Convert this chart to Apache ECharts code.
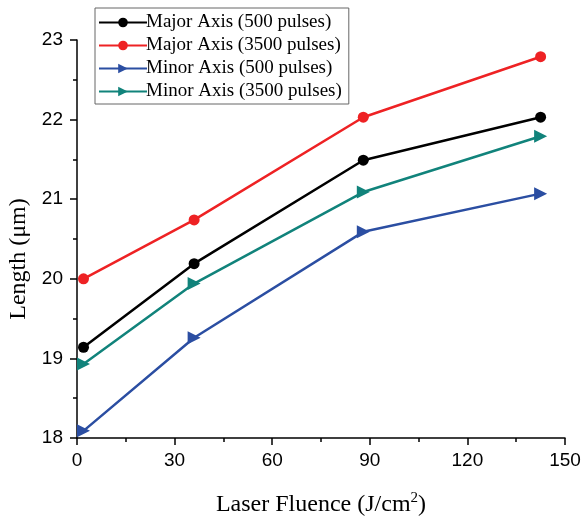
<!DOCTYPE html>
<html><head><meta charset="utf-8">
<script src="https://cdn.jsdelivr.net/npm/echarts@6/dist/echarts.min.js"></script>
<style>html,body{margin:0;padding:0;background:#fff}#c{width:585px;height:518px}</style>
</head><body><div id="c"></div>
<script>
const fluence = [2, 36, 88, 142.5];
const majorAxis500 = [19.14, 20.19, 21.49, 22.03];
const majorAxis3500 = [20.0, 20.74, 22.03, 22.79];
const minorAxis500 = [18.09, 19.26, 20.59, 21.07];
const minorAxis3500 = [18.93, 19.94, 21.09, 21.79];
const seriesNames = ['Major Axis (500 pulses)', 'Major Axis (3500 pulses)', 'Minor Axis (500 pulses)', 'Minor Axis (3500 pulses)'];
const colors = ['#000000', '#ee2224', '#2b4ea2', '#11837b'];
const symbols = ['circle', 'circle', 'triangle', 'triangle'];
const allData = [majorAxis500, majorAxis3500, minorAxis500, minorAxis3500];

const chart = echarts.init(document.getElementById('c'));
const series = allData.map((vals, i) => ({
  name: seriesNames[i],
  type: 'line',
  data: vals.map((v, j) => [fluence[j], v]),
  symbol: symbols[i],
  symbolSize: symbols[i] === 'circle' ? 11 : 13,
  symbolRotate: symbols[i] === 'triangle' ? -90 : 0,
  lineStyle: {color: colors[i], width: 2.5},
  itemStyle: {color: colors[i]},
  showSymbol: true,
  animation: false
}));
chart.setOption({
  animation: false,
  grid: {left: 77, right: 20, top: 40, bottom: 80, containLabel: false, outerBoundsMode: 'none'},
  legend: {
    orient: 'vertical', left: 95, top: 8,
    itemWidth: 48, itemHeight: 12, itemGap: 4,
    padding: [5, 7, 3, 3],
    borderColor: '#666', borderWidth: 1,
    textStyle: {fontFamily: 'Liberation Serif', fontSize: 19, color: '#000', padding: [0, 0, 0, -6]},
    data: seriesNames
  },
  xAxis: {
    type: 'value', min: 0, max: 150, interval: 30,
    name: 'Laser Fluence (J/cm{sup|2})',
    nameLocation: 'middle', nameGap: 53,
    nameTextStyle: {fontFamily: 'Liberation Serif', fontSize: 24, color: '#000',
      rich: {sup: {fontFamily: 'Liberation Serif', fontSize: 15, verticalAlign: 'top', padding: [0, 0, 12, 0], color: '#000'}}},
    axisLine: {show: true, lineStyle: {color: '#000', width: 1.5}},
    axisTick: {show: true, inside: false, length: 7, lineStyle: {color: '#000', width: 1.5}},
    minorTick: {show: true, splitNumber: 2, length: 4, lineStyle: {color: '#000', width: 1.5}},
    axisLabel: {fontFamily: 'Liberation Sans', fontSize: 19, color: '#000', margin: 13},
    splitLine: {show: false}
  },
  yAxis: {
    type: 'value', min: 18, max: 23, interval: 1,
    name: 'Length (μm)',
    nameLocation: 'middle', nameGap: 45,
    nameTextStyle: {fontFamily: 'Liberation Serif', fontSize: 24, color: '#000', padding: [0, 40, 0, 0]},
    axisLine: {show: true, lineStyle: {color: '#000', width: 1.5}},
    axisTick: {show: true, inside: false, length: 7, lineStyle: {color: '#000', width: 1.5}},
    minorTick: {show: true, splitNumber: 2, length: 4, lineStyle: {color: '#000', width: 1.5}},
    axisLabel: {fontFamily: 'Liberation Sans', fontSize: 19, color: '#000', margin: 14},
    splitLine: {show: false}
  },
  series: series
});
</script></body></html>
